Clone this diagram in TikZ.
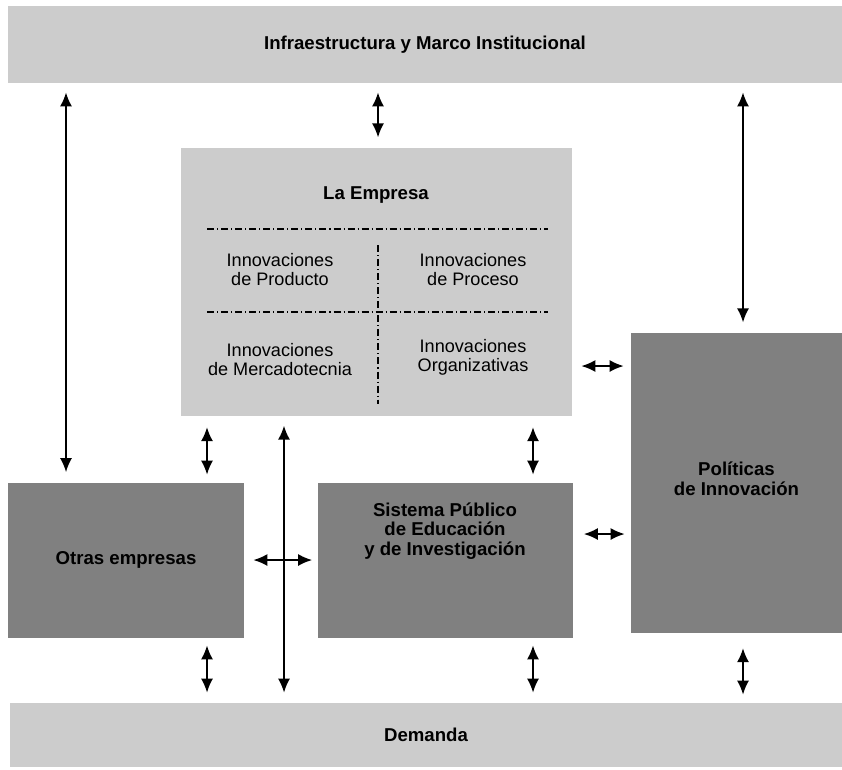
\documentclass[tikz,border=0pt]{standalone}
\usepackage{fontspec}
\setmainfont{Liberation Sans}
\usetikzlibrary{arrows.meta}

\definecolor{barra}{HTML}{CCCCCC}
\definecolor{bloque}{HTML}{808080}

\tikzset{
  caja/.style={rectangle,draw=none,inner sep=0pt,font=\fontsize{10.6pt}{11.2pt}\selectfont\bfseries,align=center},
  clara/.style={caja,fill=barra},
  oscura/.style={caja,fill=bloque},
  innov/.style={font=\fontsize{10.3pt}{10.8pt}\selectfont,align=center,inner sep=0pt},
  rayapunto/.style={line width=0.8pt,dash pattern=on 4pt off 1.7pt on 0.6pt off 1.7pt},
  biarrow/.style={{Latex[length=0.28cm,width=0.24cm]}-{Latex[length=0.28cm,width=0.24cm]},line width=1pt,shorten <=0.18cm,shorten >=0.2cm}
}

\begin{document}
\begin{tikzpicture}[x=0.02cm,y=-0.02cm]
\useasboundingbox (0,0) rectangle (842,769);

% barras
\node[clara,minimum width=834*0.02cm,minimum height=77*0.02cm] (infra) at (425,44.5) {Infraestructura y Marco Institucional};
\node[clara,minimum width=832*0.02cm,minimum height=64*0.02cm] (demanda) at (426,735) {Demanda};

% bloques
\node[clara,minimum width=391*0.02cm,minimum height=268.5*0.02cm] (empresa) at (376.5,282) {};
\node[oscura,minimum width=236*0.02cm,minimum height=155*0.02cm] (otras) at (126,560) {Otras empresas};
\node[oscura,minimum width=255*0.02cm,minimum height=155*0.02cm] (sistema) at (445,560) {};
\node[oscura,minimum width=211*0.02cm,minimum height=300.5*0.02cm] (politicas) at (736.5,483) {};
\node[caja] (sistemat) at (445,531) {Sistema Público\\de Educación\\y de Investigación};
\node[caja] (politicast) at (736.5,479) {Políticas\\de Innovación};

% la empresa
\node[caja] (titulo) at (376,195) {La Empresa};
\node[innov] (producto) at (280,270) {Innovaciones\\de Producto};
\node[innov] (proceso) at (473,270) {Innovaciones\\de Proceso};
\node[innov] (mercado) at (280,360) {Innovaciones\\de Mercadotecnia};
\node[innov] (organiza) at (473,357) {Innovaciones\\Organizativas};
\draw[rayapunto] (207,229) -- (548,229);
\draw[rayapunto] (207,312) -- (548,312);
\draw[rayapunto] (378,245) -- (378,404);

% columnas de flechas
\coordinate (c1) at (66,0);
\coordinate (c2) at (207,0);
\coordinate (c3) at (284,0);
\coordinate (c4) at (378,0);
\coordinate (c5) at (533,0);
\coordinate (c6) at (743,0);
\coordinate (f1) at (0,366);
\coordinate (f2) at (0,534);
\coordinate (f3) at (0,560);

\draw[biarrow] (c1 |- infra.south) -- (c1 |- otras.north);
\draw[biarrow] (c4 |- infra.south) -- (c4 |- empresa.north);
\draw[biarrow] (c6 |- infra.south) -- (c6 |- politicas.north);
\draw[biarrow,shorten <=0.21cm,shorten >=0.15cm] (c2 |- empresa.south) -- (c2 |- otras.north);
\draw[biarrow,shorten <=0.21cm,shorten >=0.15cm] (c5 |- empresa.south) -- (c5 |- sistema.north);
\draw[biarrow] (c3 |- empresa.south) -- (c3 |- demanda.north);
\draw[biarrow,shorten >=0.1cm] (f3 -| otras.east) -- (f3 -| sistema.west);
\draw[biarrow,shorten >=0.14cm] (f1 -| empresa.east) -- (f1 -| politicas.west);
\draw[biarrow,shorten <=0.22cm,shorten >=0.12cm] (f2 -| sistema.east) -- (f2 -| politicas.west);
\draw[biarrow,shorten <=0.15cm] (c2 |- otras.south) -- (c2 |- demanda.north);
\draw[biarrow,shorten <=0.15cm] (c5 |- sistema.south) -- (c5 |- demanda.north);
\draw[biarrow,shorten <=0.29cm,shorten >=0.16cm] (c6 |- politicas.south) -- (c6 |- demanda.north);

\end{tikzpicture}
\end{document}
